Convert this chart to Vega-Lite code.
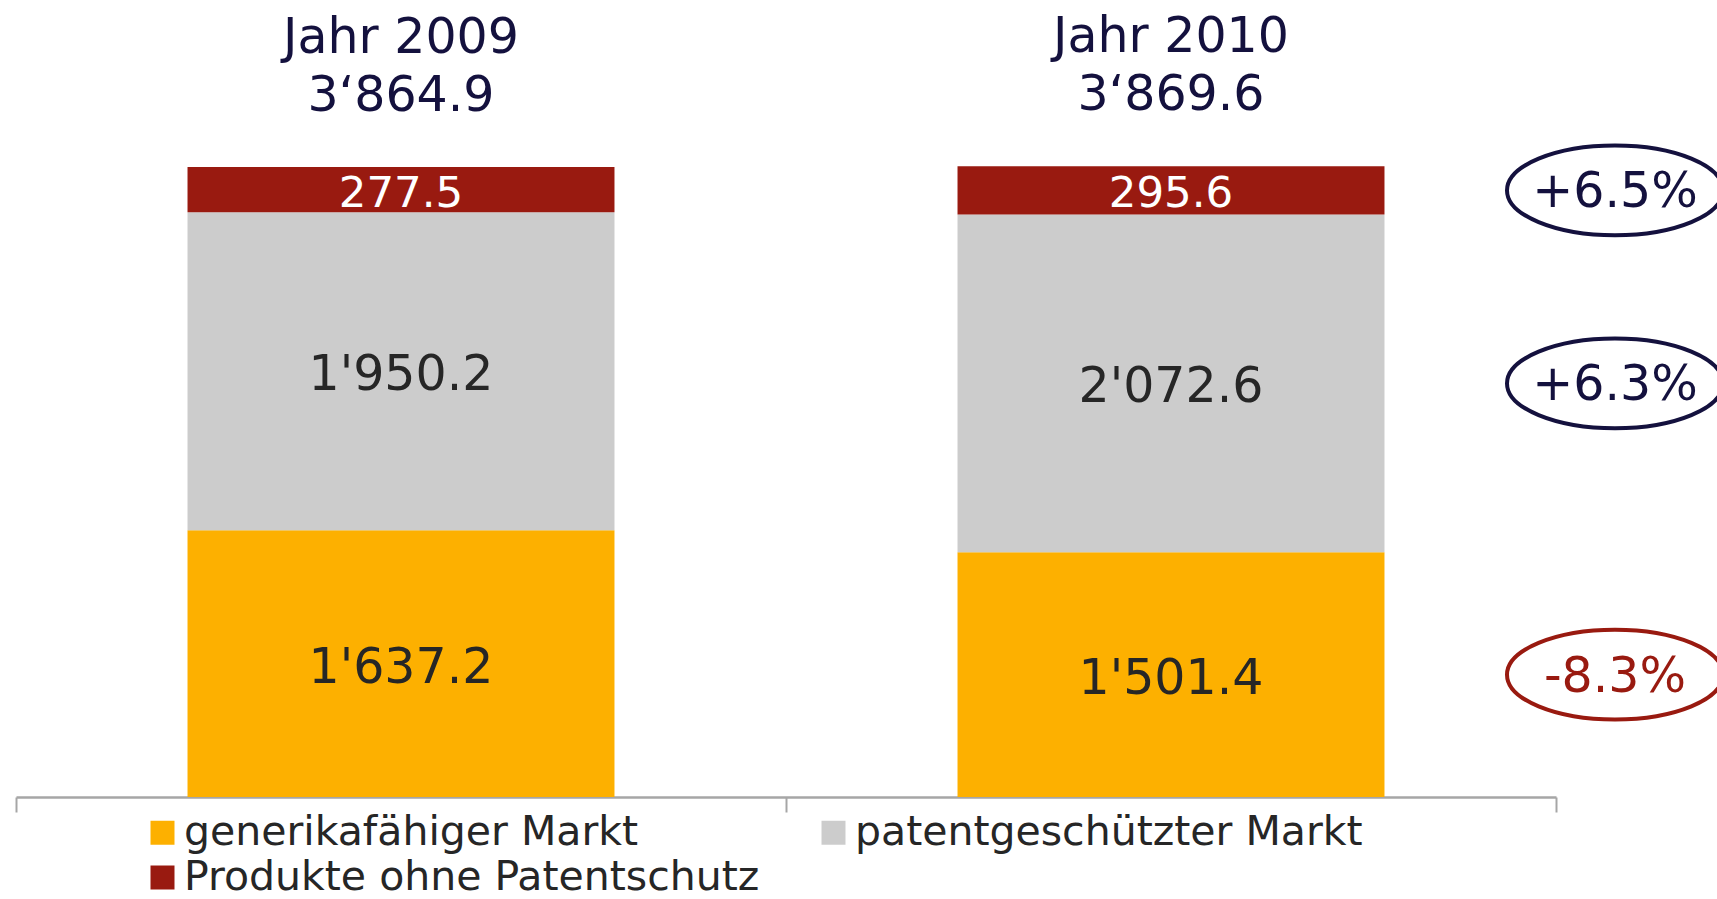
{
  "$schema": "https://vega.github.io/schema/vega-lite/v6.json",
  "width": 1540,
  "height": 797,
  "autosize": {"type": "none"},
  "padding": {"left": 16, "right": 161, "top": 0, "bottom": 102},
  "background": "white",
  "config": {
    "view": {"stroke": null},
    "font": "DejaVu Sans",
    "locale": {"number": {"decimal": ".", "thousands": "'", "grouping": [3], "currency": ["", ""], "minus": "-", "percent": "%"}}
  },
  "datasets": {
    "markt": [
      {"year": "2009", "cat": "generikafähiger Markt", "ord": 1, "value": 1637.2},
      {"year": "2009", "cat": "patentgeschützter Markt", "ord": 2, "value": 1950.2},
      {"year": "2009", "cat": "Produkte ohne Patentschutz", "ord": 3, "value": 277.5},
      {"year": "2010", "cat": "generikafähiger Markt", "ord": 1, "value": 1501.4, "change": -0.083},
      {"year": "2010", "cat": "patentgeschützter Markt", "ord": 2, "value": 2072.6, "change": 0.063},
      {"year": "2010", "cat": "Produkte ohne Patentschutz", "ord": 3, "value": 295.6, "change": 0.065}
    ],
    "titel": [
      {"year": "2009", "total": 3864.9, "title": "Jahr 2009\n3‘864.9"},
      {"year": "2010", "total": 3869.6, "title": "Jahr 2010\n3‘869.6"}
    ]
  },
  "resolve": {"scale": {"x": "independent"}},
  "layer": [
    {
      "layer": [
        {
          "data": {"name": "markt"},
          "transform": [
            {"stack": "value", "groupby": ["year"], "sort": [{"field": "ord", "order": "ascending"}], "as": ["y0", "y1"]},
            {"fold": ["y0", "y1"], "as": ["edge", "pos"]},
            {"aggregate": [{"op": "mean", "field": "pos", "as": "mitte"}], "groupby": ["year", "cat", "ord", "value", "y0", "y1"]}
          ],
          "layer": [
            {
              "mark": {"type": "bar", "width": {"band": 0.5545}},
              "encoding": {
                "x": {
                  "field": "year", "type": "nominal",
                  "scale": {"paddingInner": 0, "paddingOuter": 0},
                  "axis": {"title": null, "labels": false, "domainColor": "#A6A6A6", "domainWidth": 2.5, "tickColor": "#A6A6A6", "tickWidth": 2, "tickSize": 15, "tickBand": "extent", "grid": false}
                },
                "y": {"field": "y0", "type": "quantitative", "scale": {"domain": [0, 4890], "nice": false}, "axis": null},
                "y2": {"field": "y1"},
                "color": {
                  "field": "cat", "type": "nominal",
                  "scale": {"domain": ["generikafähiger Markt", "patentgeschützter Markt", "Produkte ohne Patentschutz"], "range": ["#FDB000", "#CCCCCC", "#991A10"]},
                  "legend": {
                    "orient": "none", "legendX": 126, "legendY": 812, "columns": 2, "direction": "horizontal", "title": null,
                    "symbolType": "square", "symbolSize": 576, "symbolStrokeWidth": 0,
                    "labelFontSize": 41, "labelFont": "DejaVu Sans", "labelColor": "#262626",
                    "labelOffset": 1, "columnPadding": 53, "rowPadding": 3, "labelLimit": 1000, "padding": 0
                  }
                }
              }
            },
            {
              "mark": {"type": "text", "baseline": "middle", "align": "center", "dy": 4},
              "encoding": {
                "x": {"field": "year", "type": "nominal"},
                "y": {"field": "mitte", "type": "quantitative"},
                "text": {"field": "value", "type": "quantitative", "format": ",.1f"},
                "color": {"condition": {"test": "datum.cat === 'Produkte ohne Patentschutz'", "value": "#FFFFFF"}, "value": "#262626"},
                "size": {"condition": {"test": "datum.cat === 'Produkte ohne Patentschutz'", "value": 43.5}, "value": 49}
              }
            }
          ]
        },
        {
          "data": {"name": "titel"},
          "mark": {"type": "text", "lineBreak": "\n", "fontSize": 49, "lineHeight": 58, "baseline": "alphabetic", "align": "center", "dy": -114, "color": "#14113E"},
          "encoding": {
            "x": {"field": "year", "type": "nominal"},
            "y": {"field": "total", "type": "quantitative"},
            "text": {"field": "title", "type": "nominal"}
          }
        }
      ]
    },
    {
      "data": {"name": "markt"},
      "transform": [
        {"stack": "value", "groupby": ["year"], "sort": [{"field": "ord", "order": "ascending"}], "as": ["y0", "y1"]},
        {"filter": "datum.year === '2010'"},
        {"fold": ["y0", "y1"], "as": ["edge", "pos"]},
        {"aggregate": [{"op": "mean", "field": "pos", "as": "mitte"}], "groupby": ["cat", "change"]}
      ],
      "encoding": {
        "x": {"datum": "Veränderung", "type": "nominal", "scale": {"type": "band", "domain": ["Veränderung"], "range": [1490, 1708]}, "axis": null},
        "y": {"field": "mitte", "type": "quantitative"}
      },
      "layer": [
        {
          "mark": {"type": "point", "shape": "M-1,0A1,0.415,0,1,1,1,0A1,0.415,0,1,1,-1,0Z", "size": 46656, "filled": false, "strokeWidth": 4, "opacity": 1},
          "encoding": {
            "stroke": {"condition": {"test": "datum.change < 0", "value": "#991A10"}, "value": "#14113E"}
          }
        },
        {
          "mark": {"type": "text", "fontSize": 49, "baseline": "middle", "align": "center", "dy": 2},
          "encoding": {
            "text": {"field": "change", "type": "quantitative", "format": "+.1%"},
            "color": {"condition": {"test": "datum.change < 0", "value": "#991A10"}, "value": "#14113E"}
          }
        }
      ]
    }
  ]
}
